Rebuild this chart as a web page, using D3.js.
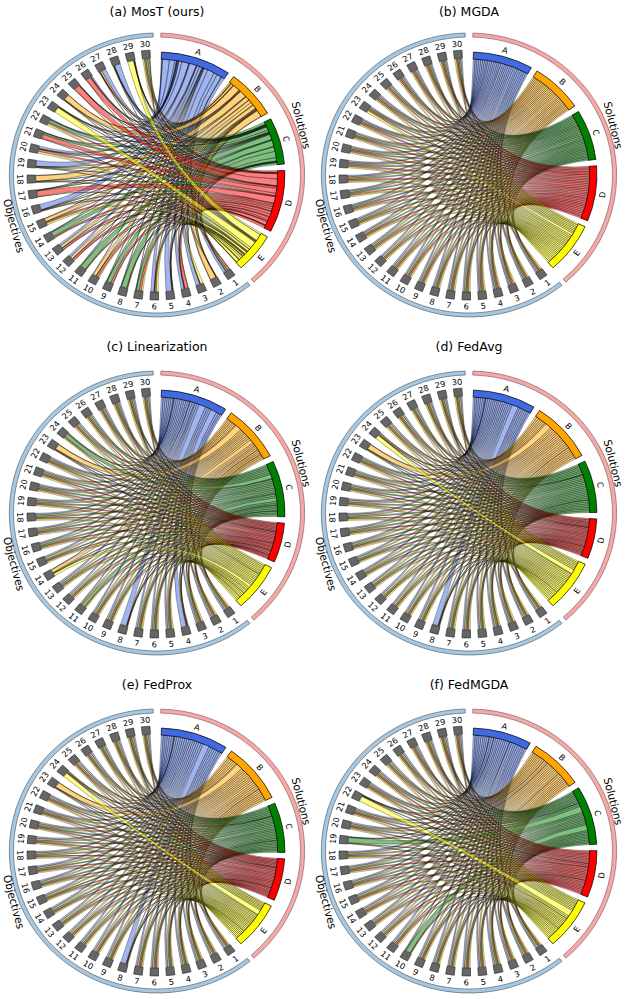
<!DOCTYPE html>
<html>
<head>
<meta charset="utf-8">
<script src="https://cdn.jsdelivr.net/npm/d3@7"></script>
<style>
    body { margin: 0; background: #fff; }
    svg { display: block; font-family: "DejaVu Sans", sans-serif; }
</style>
</head>
<body>
<svg id="chart" width="631" height="999"></svg>
<script>
// ---- data ----
const objectives = ["1","2","3","4","5","6","7","8","9","10","11","12","13","14","15",
                    "16","17","18","19","20","21","22","23","24","25","26","27","28","29","30"];
const solutions = ["A", "B", "C", "D", "E"];
const solutionColors = ["royalblue", "orange", "green", "red", "yellow"];
const groupLabels = ["Objectives", "Solutions"];
const methodTitles = ["(a) MosT (ours)", "(b) MGDA", "(c) Linearization",
                      "(d) FedAvg", "(e) FedProx", "(f) FedMGDA"];

// share (%) of each objective (rows 1..30) given to solutions A..E
const mostWeights = [
    [35,5,25,30,5], [5,80,5,5,5], [55,5,0,5,35], [40,5,5,45,5], [80,5,5,5,5],
    [45,5,5,20,25], [5,5,40,30,20], [5,5,75,10,5], [5,5,55,30,5], [5,45,5,30,15],
    [5,5,75,10,5], [30,35,5,25,5], [30,35,5,25,5], [5,5,65,20,5], [5,45,5,20,25],
    [80,5,5,5,5], [5,5,5,80,5], [5,80,5,5,5], [80,5,5,5,5], [35,5,5,30,25],
    [5,5,25,60,5], [10,5,40,20,25], [5,5,5,5,80], [5,80,5,5,5], [5,5,5,80,5],
    [20,5,5,65,5], [60,25,5,5,5], [80,5,5,5,5], [5,5,5,5,80], [10,20,30,20,20]
];
const mgdaWeights = [
    [22,19,19,21,19], [23,18,19,21,19], [21,20,18,22,19], [22,19,20,20,19], [22,18,19,22,19],
    [21,19,19,21,20], [22,20,18,21,19], [23,19,19,20,19], [22,19,20,21,18], [21,19,19,22,19],
    [22,18,20,21,19], [22,20,19,20,19], [21,19,19,22,19], [22,19,18,21,20], [23,19,19,20,19],
    [22,19,20,21,18], [21,20,19,21,19], [22,19,19,22,18], [22,18,20,21,19], [21,19,19,21,20],
    [22,20,19,20,19], [22,19,18,22,19], [18,17,17,18,30], [22,19,20,21,18], [21,19,19,22,19],
    [22,20,19,21,18], [23,19,19,20,19], [22,18,20,21,19], [21,19,19,22,19], [22,19,20,20,19]
];
const linearWeights = [
    [23,20,21,17,19], [22,21,21,17,19], [24,19,21,16,20], [70,8,8,6,8], [23,20,22,17,18],
    [22,20,21,18,19], [24,20,20,17,19], [80,5,5,5,5], [23,21,21,16,19], [22,20,22,17,19],
    [12,15,45,13,15], [23,20,21,17,19], [24,19,21,17,19], [5,45,10,5,35], [22,24,20,15,19],
    [23,20,21,17,19], [22,21,21,17,19], [23,20,22,16,19], [24,20,21,17,18], [23,19,21,18,19],
    [22,20,21,17,20], [23,20,21,17,19], [5,75,8,5,7], [10,10,55,10,15], [23,21,20,17,19],
    [22,20,22,17,19], [23,20,21,17,19], [24,19,21,17,19], [23,20,21,16,20], [22,21,21,17,19]
];
const fedavgWeights = [
    [22,22,21,16,19], [21,23,21,16,19], [22,21,20,16,21], [23,22,21,15,19], [22,22,22,16,18],
    [22,21,21,17,19], [21,22,21,16,20], [75,6,7,5,7], [22,22,21,16,19], [23,21,21,16,19],
    [22,22,20,17,19], [22,23,21,15,19], [21,22,21,16,20], [22,22,22,16,18], [23,21,21,16,19],
    [22,22,21,16,19], [22,21,21,17,19], [21,22,22,16,19], [22,23,21,15,19], [23,22,20,16,19],
    [22,22,21,16,19], [22,21,21,17,19], [5,75,7,5,8], [10,15,10,10,55], [22,22,21,16,19],
    [23,22,21,15,19], [22,21,22,16,19], [22,22,21,16,19], [21,22,21,17,19], [22,22,21,16,19]
];
const fedproxWeights = [
    [24,22,20,17,17], [23,23,20,17,17], [24,21,19,17,19], [25,22,20,16,17], [24,22,21,17,16],
    [24,21,20,18,17], [23,22,20,17,18], [75,6,7,5,7], [24,22,20,17,17], [25,22,19,17,17],
    [24,21,20,17,18], [24,23,20,16,17], [23,22,21,17,17], [24,22,20,17,17], [24,22,19,18,17],
    [25,21,20,17,17], [24,22,20,17,17], [23,22,21,17,17], [24,23,20,16,17], [24,22,20,17,17],
    [24,21,20,17,18], [23,22,20,18,17], [5,75,7,5,8], [8,12,10,10,60], [24,22,20,17,17],
    [25,22,20,16,17], [24,22,21,17,16], [24,22,20,17,17], [23,22,20,17,18], [24,22,20,17,17]
];
const fedmgdaWeights = [
    [23,21,19,19,18], [22,22,19,19,18], [23,21,18,20,18], [24,21,19,18,18], [23,20,19,19,19],
    [23,21,20,18,18], [22,21,19,19,19], [23,22,19,18,18], [23,21,19,19,18], [7,7,70,8,8],
    [24,21,18,19,18], [23,21,19,20,17], [22,21,20,19,18], [23,22,19,18,18], [23,21,19,19,18],
    [24,20,19,19,18], [23,21,19,19,18], [22,21,19,20,18], [6,6,75,7,6], [23,21,20,18,18],
    [23,22,19,18,18], [6,6,6,7,75], [23,21,19,19,18], [22,21,19,19,19], [23,21,19,19,18],
    [24,21,19,18,18], [23,20,19,20,18], [23,21,20,18,18], [22,22,19,19,18], [23,21,19,19,18]
];
const methodWeights = [mostWeights, mgdaWeights, linearWeights,
                       fedavgWeights, fedproxWeights, fedmgdaWeights];

// ---- layout ----
const panelPos = [
    {cx: 157, cy: 175, ty: 11}, {cx: 469, cy: 175, ty: 11},
    {cx: 157, cy: 513, ty: 346}, {cx: 469, cy: 513, ty: 346},
    {cx: 157, cy: 851, ty: 684}, {cx: 469, cy: 851, ty: 684}
];
const SX = 1.04;            // source picture is slightly wider than tall
const deg = Math.PI / 180;
const OBJ_START = 145, OBJ_END = 355, OBJ_HALF = 1.75;
const SOL_START = 2, SOL_END = 139, GAP = 3;

function label_pos(angle, r, tilt = 0) {
    let x = r * Math.sin(angle * deg);
    let y = -r * Math.cos(angle * deg);
    let rot = (angle > 90 && angle < 270) ? angle - 180 : angle;
    return `translate(${x}, ${y}) rotate(${rot + tilt})`;
}

function chord_plot(axis, weights, title, pos)
{
    axis.append('text')
        .attr('x', pos.cx)
        .attr('y', pos.ty)
        .attr('text-anchor', 'middle')
        .attr('dominant-baseline', 'central')
        .style('font-size', '12.5px')
        .text(title);

    let g = axis.append('g')
        .attr('transform', `translate(${pos.cx}, ${pos.cy}) scale(${SX}, 1)`);

    let total = d3.sum(weights, function (d) {return d3.sum(d);});
    let k = (SOL_END - SOL_START - GAP * (solutions.length - 1)) / total;

    //solution bands
    let bands = [];
    let cursor = SOL_START;
    solutions.forEach(function (s, j) {
        let w = d3.sum(weights, function (d) {return d[j];});
        bands.push({name: s, color: solutionColors[j], start: cursor, end: cursor + w * k});
        cursor += w * k + GAP;
    });

    let objAngle = d3.scalePoint()
        .domain(objectives)
        .range([OBJ_START, OBJ_END]);

    //ribbon ends on the solution side: objective 30 first
    let links = [];
    let tCursor = bands.map(function (b) {return b.start;});
    for (let i = objectives.length - 1; i >= 0; i--) {
        for (let j = 0; j < solutions.length; j++) {
            let w = weights[i][j];
            if (w <= 0) continue;
            links.push({i: i, j: j, t0: tCursor[j], t1: tCursor[j] + w * k});
            tCursor[j] += w * k;
        }
    }
    //ribbon ends on the objective side: E first
    objectives.forEach(function (o, i) {
        let rowSum = d3.sum(weights[i]);
        let cur = objAngle(o) - OBJ_HALF;
        for (let j = solutions.length - 1; j >= 0; j--) {
            let w = weights[i][j];
            if (w <= 0) continue;
            let link = links.find(function (l) {return l.i === i && l.j === j;});
            link.s0 = cur;
            link.s1 = cur + 2 * OBJ_HALF * w / rowSum;
            cur = link.s1;
        }
    });
    links.sort(function (a, b) {return a.j - b.j;});

    let ribbon = d3.ribbon().radius(116.5);

    //outer rings
    let ring = d3.arc().innerRadius(138).outerRadius(142);
    let rings = [
        {name: groupLabels[0], start: 141, end: 358.5, fill: '#a9c8e0', stroke: '#44525e'},
        {name: groupLabels[1], start: 1.5, end: 139, fill: '#f4a8a8', stroke: '#7a5555'}
    ];
    g.selectAll('.ring')
        .data(rings)
        .enter()
        .append('path')
        .attr('class', 'ring')
        .attr('d', function (d) {
            return ring({startAngle: d.start * deg, endAngle: d.end * deg});})
        .style('fill', function (d) {return d.fill;})
        .style('stroke', function (d) {return d.stroke;})
        .style('stroke-width', 0.6);
    g.selectAll('.ringLabel')
        .data(rings)
        .enter()
        .append('text')
        .attr('class', 'ringLabel')
        .attr('transform', function (d) {return label_pos((d.start + d.end) / 2, 147, 6);})
        .attr('text-anchor', 'middle')
        .attr('dominant-baseline', 'central')
        .style('font-size', '10.5px')
        .text(function (d) {return d.name;});

    //ribbons
    g.selectAll('.ribbon')
        .data(links)
        .enter()
        .append('path')
        .attr('class', 'ribbon')
        .attr('d', function (d) {
            return ribbon({
                source: {startAngle: d.s0 * deg, endAngle: d.s1 * deg},
                target: {startAngle: d.t0 * deg, endAngle: d.t1 * deg}
            });})
        .style('fill', function (d) {return solutionColors[d.j];})
        .style('fill-opacity', 0.5)
        .style('stroke', '#000')
        .style('stroke-opacity', 0.85)
        .style('stroke-width', 0.35);

    //solution bands
    let band = d3.arc().innerRadius(116).outerRadius(123);
    g.selectAll('.band')
        .data(bands)
        .enter()
        .append('path')
        .attr('class', 'band')
        .attr('d', function (d) {
            return band({startAngle: d.start * deg, endAngle: d.end * deg});})
        .style('fill', function (d) {return d.color;})
        .style('stroke', '#000')
        .style('stroke-width', 0.7);
    g.selectAll('.bandLabel')
        .data(bands)
        .enter()
        .append('text')
        .attr('class', 'bandLabel')
        .attr('transform', function (d) {return label_pos((d.start + d.end) / 2, 129.5);})
        .attr('text-anchor', 'middle')
        .attr('dominant-baseline', 'central')
        .style('font-size', '8px')
        .text(function (d) {return d.name;});

    //objective markers
    let marker = d3.arc().innerRadius(117).outerRadius(125);
    g.selectAll('.marker')
        .data(objectives)
        .enter()
        .append('path')
        .attr('class', 'marker')
        .attr('d', function (d) {
            return marker({startAngle: (objAngle(d) - 1.9) * deg, endAngle: (objAngle(d) + 1.9) * deg});})
        .style('fill', '#666')
        .style('stroke', '#222')
        .style('stroke-width', 0.6);
    g.selectAll('.objLabel')
        .data(objectives)
        .enter()
        .append('text')
        .attr('class', 'objLabel')
        .attr('transform', function (d) {return label_pos(objAngle(d), 131.5);})
        .attr('text-anchor', 'middle')
        .attr('dominant-baseline', 'central')
        .style('font-size', '8px')
        .text(function (d) {return d;});
}

let svg = d3.select('#chart');
methodTitles.forEach(function (t, n) {
    chord_plot(svg, methodWeights[n], t, panelPos[n]);
});
</script>
</body>
</html>
